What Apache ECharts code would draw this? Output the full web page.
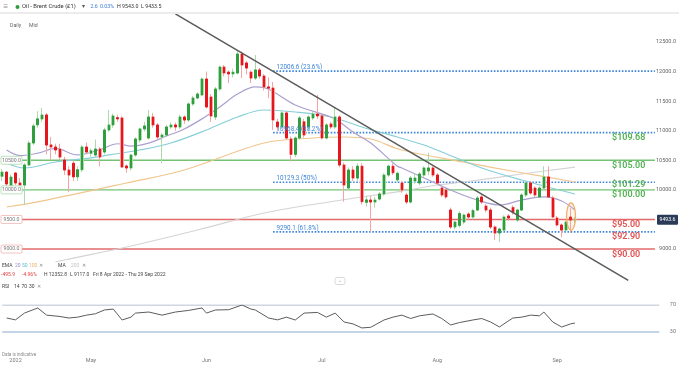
<!DOCTYPE html>
<html><head><meta charset="utf-8">
<script src="https://cdn.jsdelivr.net/npm/echarts@6/dist/echarts.min.js"></script>
<style>html,body{margin:0;padding:0;background:#fff;}#c{width:679px;height:366px;}</style>
</head><body><div id="c"></div>
<script>
// ---- DATA ----
// candles [open, close, low, high], one per session (Sun-Fri) from Fri 8 Apr 2022
const candles = [
[10230,10300,10150,10350],[10300,10100,10050,10320],[10047,10217,9990,10260],[10285,10117,10080,10300],
[10117,10082,10000,10200],[10082,10420,9744,10450],[10420,10792,10400,10830],[10792,11080,10760,11120],
[11100,11200,11050,11330],[11198,11266,11150,11384],[11266,10758,10600,11300],[10760,10725,10505,10894],
[10725,10674,10600,10780],[10690,10555,10500,10780],[10505,10336,10250,10560],[10336,10250,9960,10400],
[10450,10220,10150,10500],[10220,10340,10150,10400],[10340,10724,10300,10760],[10724,10640,10600,10800],
[10620,10660,10560,10700],[10589,10690,10560,10850],[10690,10555,10400,10720],[10640,11012,10600,11050],
[11012,11097,10980,11350],[11097,11250,11050,11290],[11220,11200,11150,11270],[11215,10386,10370,11250],
[10403,10370,10290,10430],[10370,10589,10330,10600],[10589,10860,10560,10890],[10843,11030,10800,11050],
[11030,11080,10990,11150],[10877,11232,10850,11350],[11232,11097,11050,11300],[11097,10894,10850,11130],
[10894,10927,10450,10960],[10927,11063,10900,11100],[11063,11097,11030,11140],[11097,11063,11000,11140],
[11063,11232,11030,11270],[11232,11181,11120,11260],[11181,11452,11150,11480],[11452,11553,11420,11590],
[11553,11620,11530,11650],[11604,11874,11580,11900],[11874,11401,11380,12000],[11570,11249,11147,11620],
[11232,11705,11180,11740],[11705,12077,11680,12100],[12077,11976,11920,12111],[11990,11960,11807,12020],
[11960,11990,11900,12050],[11976,12297,11950,12353],[12297,12111,11890,12340],[12145,12060,11950,12180],
[11990,11890,11807,12020],[11890,12027,11860,12280],[12027,11925,11880,12060],[11925,11740,11680,11960],
[11740,11720,11550,11900],[11722,11181,11012,11824],[11147,11063,11000,11200],[11063,11300,11030,11330],
[11300,10877,10850,11330],[10860,10600,10480,10900],[10600,10877,10550,10900],[10877,11215,10850,11250],
[11150,10927,10880,11200],[11063,11232,11000,11260],[11215,11282,11180,11320],[11282,11250,11200,11604],
[11250,10877,10850,11280],[10877,11097,10850,11130],[11114,11063,11030,11150],[11063,11232,11030,11400],
[11232,10420,10380,11260],[10420,10082,9800,10460],[10032,10336,10000,10380],[10336,10200,10150,10400],
[10200,10400,10150,10450],[10400,9800,9750,10450],[9790,9830,9720,9900],[9828,9795,9290,9900],
[9795,9828,9700,9880],[9845,9930,9820,9960],[9930,10251,9900,10280],[10251,10400,10220,10430],
[10400,10290,10250,10450],[10170,10280,10130,10310],[10116,9997,9950,10150],[9913,9795,9760,9950],
[9795,10200,9770,10230],[10150,10200,10100,10280],[10116,10268,10080,10300],[10251,10370,10220,10400],
[10320,10370,10250,10630],[10370,10251,10220,10400],[10251,10116,10080,10280],[10031,9913,9880,10060],
[9997,9880,9850,10030],[9659,9372,9340,9700],[9372,9456,9330,9480],[9400,9600,9360,9640],
[9456,9575,9420,9600],[9592,9541,9500,9620],[9541,9650,9500,9680],[9659,9862,9640,9900],
[9879,9795,9760,9920],[9727,9659,9620,9760],[9659,9372,9340,9700],[9372,9270,9150,9400],
[9270,9338,9117,9360],[9321,9541,9300,9570],[9558,9524,9480,9590],[9700,9620,9580,9740],
[9490,9659,9460,9680],[9659,9913,9640,9940],[9913,10116,9880,10150],[10116,9947,9920,10150],
[10031,9913,9880,10060],[9880,10031,9860,10060],[10031,10218,10000,10400],[10218,9880,9860,10400],
[9862,9541,9520,9900],[9524,9406,9380,9560],[9406,9321,9200,9430],[9321,9456,9300,9480],
[9540,9491,9270,9690],[9491,9494,9434,9543]
];
// indicator readings [session index, value]
const ema20 = [[1,10674],[4,10580],[8,10620],[12,10700],[17,10590],[22,10680],[26,10780],[29,10740],[33,10790],[37,10910],[41,11030],[45,11200],[49,11400],[53,11620],[57,11740],[60,11700],[66,11435],[74,11232],[76,11147],[79,10978],[83,10792],[89,10400],[90,10370],[97,10133],[101,9997],[107,9828],[112,9744],[117,9828],[122,9880],[126,9812],[129,9659]];
const ema50 = [[1,10455],[5,10370],[12,10471],[20,10540],[24,10590],[31,10674],[38,10792],[46,11012],[53,11232],[59,11350],[66,11316],[74,11232],[81,11063],[89,10894],[95,10758],[99,10640],[108,10370],[117,10167],[129,9930]];
const ema100 = [[1,9710],[10,9828],[28,10116],[41,10336],[59,10792],[70,10877],[77,10894],[83,10860],[90,10674],[105,10455],[116,10302],[129,10133]];
const ma200 = [[12,8780],[14,8814],[28,9034],[44,9321],[59,9609],[75,9812],[90,9980],[98,10082],[104,10133],[117,10268],[129,10386]];
const rsi = [[1,50.7],[3,48],[5,58],[8,65.6],[10,55],[13,53],[15,50.7],[17,52],[19,55],[21,57],[23,62.6],[25,64],[27,47.8],[29,52],[30,58],[33,59.6],[36,55],[39,59.6],[42,62],[45,65.6],[46,58],[48,62.6],[51,63],[54,70],[56,64],[57,62.6],[60,50.7],[62,48],[64,52],[66,47.8],[68,58],[71,59],[73,52],[75,58],[77,44.8],[79,42],[81,36],[83,37],[86,47.8],[88,52],[90,55],[92,50],[94,54],[97,56.7],[99,50],[101,40.4],[103,44],[106,47.8],[108,50],[110,44.8],[112,37.4],[113,42],[115,50.7],[117,52],[119,55],[121,54],[122,59.6],[124,44.8],[126,37.4],[128,42],[129,43.3]];
// horizontal levels
const fibLevels = [12006.6, 10968.4, 10129.3, 9290.1];
const fibLabels = ['12006.6 (23.6%)', '10968.4 (38.2%)', '10129.3 (50%)', '9290.1 (61.8%)'];
const greenLevels = [10500, 10000];
const redLevels = [9500, 9000];
const tagTexts = ['$109.68', '$105.00', '$101.29', '$100.00', '$95.00', '$92.90', '$90.00'];
const tagLevels = [10968.4, 10500, 10129.3, 10000, 9500, 9290.1, 9000];
const trendline = [[39, 12975], [141, 8471]];
const priceTicks = [9000, 9500, 10000, 10500, 11000, 11500, 12000, 12500];
const lastPrice = 9493.6;
const monthTicks = {'2022-04-12':'2022','2022-05-02':'May','2022-06-01':'Jun','2022-07-01':'Jul','2022-08-01':'Aug','2022-09-01':'Sep'};

// sessions Sun-Fri, Fri 8 Apr 2022 - Thu 29 Sep 2022
const dates = [];
(function(){ let t = Date.UTC(2022,3,8); const end = Date.UTC(2022,8,29);
  while (t <= end) { const d = new Date(t); if (d.getUTCDay() !== 6) dates.push(d.toISOString().slice(0,10)); t += 86400000; } })();

const FONT = 'Roboto, "Liberation Sans", sans-serif';
const GL = -8.35, GR = 11.6;
const GREEN = '#2f9e3f', RED = '#e3171d';

function hline(pts, color, width, type, z) {
  return {type:'line', data:pts, xAxisIndex:0, yAxisIndex:0, showSymbol:false, symbol:'none', silent:true,
    lineStyle:{color, width, type: type||'solid'}, z: z||1, animation:false};
}
const series = [];
fibLevels.forEach(v => series.push(hline([[61, v],[147, v]], '#3d85d8', 1.6, [1.6, 1.6], 2)));
greenLevels.forEach(v => series.push(hline([[1, v],[147, v]], '#74c374', 1.4, 'solid', 2)));
redLevels.forEach(v => series.push(hline([[1, v],[147, v]], '#e26a6a', 1.4, 'solid', 2)));
[[ma200,'#d4d4d4'],[ema100,'#f0c68e'],[ema50,'#86cfd8'],[ema20,'#ab9fd1']].forEach(([d,c]) => series.push({
  type:'line', data:d, showSymbol:false, smooth:0.35, lineStyle:{color:c, width:1.2}, z:3, animation:false, silent:true}));
series.push({type:'candlestick', data:candles, barWidth:3, z:4, animation:false, silent:true,
  itemStyle:{color:'#a9dcaa', color0:'#f6a5a5', borderColor:'#a9dcaa', borderColor0:'#f6a5a5', borderWidth:1}});
series.push({type:'candlestick', data:candles.map(([o,c]) => [o, c, Math.min(o,c), Math.max(o,c)]), barWidth:2, z:5, animation:false, silent:true,
  itemStyle:{color:GREEN, color0:RED, borderColor:GREEN, borderColor0:RED, borderWidth:1}});
series.push(Object.assign(hline(trendline, '#5a5a5a', 1.5, 'solid', 6), {clip:false}));
// RSI pane
series.push({type:'line', xAxisIndex:1, yAxisIndex:1, data:[[0,70],[148,70]], showSymbol:false, lineStyle:{color:'#9eafc2', width:1.2}, animation:false, silent:true});
series.push({type:'line', xAxisIndex:1, yAxisIndex:1, data:[[0,30],[148,30]], showSymbol:false, lineStyle:{color:'#c4d4e4', width:2}, animation:false, silent:true});
series.push({type:'line', xAxisIndex:1, yAxisIndex:1, data:rsi, showSymbol:false, smooth:false, lineStyle:{color:'#5c5c5c', width:1}, animation:false, silent:true});

const chart = echarts.init(document.getElementById('c'));
chart.setOption({
  animation:false,
  backgroundColor:'#fff',
  grid:[{left:GL, right:GR, top:12.4, height:266.2}, {left:GL, right:GR, top:305, height:27}],
  xAxis:[
    {type:'category', data:dates, gridIndex:0, boundaryGap:true, axisLine:{show:false}, axisTick:{show:false}, axisLabel:{show:false}, splitLine:{show:false}},
    {type:'category', data:dates, gridIndex:1, boundaryGap:true, axisLine:{show:false}, axisTick:{show:false}, splitLine:{show:false},
      axisLabel:{interval:(i,v) => monthTicks[v] !== undefined, formatter:v => monthTicks[v] || '', fontSize:5.5, color:'#777', fontFamily:FONT, margin:26}}
  ],
  yAxis:[
    {type:'value', gridIndex:0, min:8500, max:13000, interval:500, position:'right', offset:10, scale:true,
      axisLine:{show:false}, axisTick:{show:false}, splitLine:{show:false},
      axisLabel:{inside:true, margin:0, fontSize:5.5, color:'#666', fontFamily:FONT,
        formatter:v => priceTicks.indexOf(v) >= 0 ? v.toFixed(1) : ''}},
    {type:'value', gridIndex:1, min:30, max:70, interval:40, position:'right', offset:10,
      axisLine:{show:false}, axisTick:{show:false}, splitLine:{show:false},
      axisLabel:{inside:true, margin:0, fontSize:5.5, color:'#777', fontFamily:FONT}}
  ],
  series
});

function T(x, y, text, size, color, o) {
  o = o || {};
  return {type:'text', x, y, z:100, silent:true, style:{text, fill:color, font:(o.weight||'normal') + ' ' + size + 'px ' + FONT,
    textAlign:o.align||'left', textVerticalAlign:'middle'}};
}
const P = (i, v) => chart.convertToPixel({gridIndex:0}, [i, v]);
const g = [];
// header
g.push({type:'rect', shape:{x:0, y:12, width:679, height:2}, style:{fill:'#ececec'}, z:50, silent:true});
g.push(T(3.5, 7, '\u2261', 8, '#8a8a8a'));
g.push({type:'circle', shape:{cx:17.5, cy:7, r:2}, style:{fill:'#2e9e3e'}, z:100, silent:true});
g.push(T(22, 7, 'Oil - Brent Crude (\u00a31)', 5.8, '#333'));
g.push(T(81.5, 7, '\u25be', 5.5, '#555'));
g.push(T(90.5, 7, '2.6', 5.3, '#3a7bd5'));
g.push(T(100, 7, '0.03%', 5.3, '#3a7bd5'));
g.push(T(117, 7, 'H 9543.0  L 9433.5', 5.3, '#333'));
g.push(T(10, 26, 'Daily', 5.2, '#666'));
g.push(T(29, 26, 'Mid', 5.2, '#666'));
// legend rows
const LF = 5;
g.push(T(2, 265.7, 'EMA', LF, '#444'));
g.push(T(15, 265.7, '20', LF, '#9b8fd0'));
g.push(T(22, 265.7, '50', LF, '#5ebfcc'));
g.push(T(29, 265.7, '100', LF, '#e9b471'));
g.push(T(39, 265.7, '\u2715', 4.5, '#888'));
g.push(T(58, 265.7, 'MA', LF, '#444'));
g.push(T(71, 265.7, '200', LF, '#c6c6c6'));
g.push(T(82, 265.7, '\u2715', 4.5, '#888'));
g.push(T(1, 274.7, '-495.9', LF, '#e03a3a'));
g.push(T(22, 274.7, '-4.96%', LF, '#e03a3a'));
g.push(T(44, 274.7, 'H 12352.8', LF, '#444'));
g.push(T(70, 274.7, 'L 9117.0', LF, '#444'));
g.push(T(93, 274.7, 'Fri 8 Apr 2022 - Thu 29 Sep 2022', LF, '#444'));
g.push(T(2, 286.5, 'RSI', LF, '#444'));
g.push(T(14, 286.5, '14', LF, '#444'));
g.push(T(21.5, 286.5, '70', LF, '#444'));
g.push(T(29, 286.5, '30', LF, '#444'));
g.push(T(37, 286.5, '\u2715', 4.5, '#888'));
g.push({type:'rect', shape:{x:335, y:277.5, width:10, height:7, r:2}, style:{fill:'#fff', stroke:'#cfcfcf', lineWidth:0.8}, z:90, silent:true});
g.push(T(340, 281, '\u2304', 5, '#999', {align:'center'}));
g.push(T(2, 354.5, 'Data is indicative', 4.5, '#888'));
// fib labels
fibLevels.forEach((v, k) => { const p = P(62, v); g.push(T(p[0] - 1, p[1] - 3.5, fibLabels[k], 6.3, '#3d85d8')); });
// left level boxes
greenLevels.concat(redLevels).forEach((v, k) => {
  const p = P(1, v); const isG = k < greenLevels.length;
  g.push({type:'rect', shape:{x:1, y:p[1] - 4, width:21, height:8, r:1}, style:{fill:'#fff', stroke:isG ? '#a9d9a9' : '#f0b4b4', lineWidth:0.8}, z:60, silent:true});
  g.push(T(11.5, p[1], v.toFixed(1), 5.2, '#777', {align:'center'}));
});
// level price tags
tagTexts.forEach((t, k) => {
  const p = P(137, tagLevels[k]);
  const off = t === '$101.29' ? 2.5 : 5.3;
  g.push(T(612, p[1] + off, t, 9, k < 4 ? '#52b152' : '#e05252', {weight:600}));
});
// current price box
{ const p = P(129, lastPrice);
  g.push({type:'rect', shape:{x:657, y:p[1] - 5, width:21, height:10, r:1}, style:{fill:'#2b3b57'}, z:95, silent:true});
  g.push(T(667.5, p[1], lastPrice.toFixed(1), 5.2, '#fff', {align:'center'})); }
// highlight ellipse around latest sessions
{ const c = P(128, 9550); const top = P(128, 9780);
  g.push({type:'ellipse', shape:{cx:c[0] + 0.5, cy:c[1], rx:4.5, ry:c[1] - top[1]}, style:{fill:'rgba(240,170,90,0.12)', stroke:'#f0b06a', lineWidth:1.3}, z:70, silent:true}); }
chart.setOption({graphic:g});
</script>
</body></html>
